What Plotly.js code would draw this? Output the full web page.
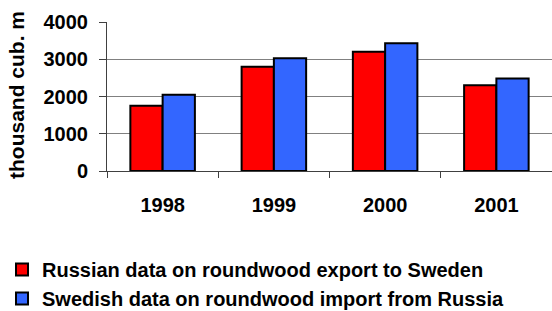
<!DOCTYPE html>
<html>
<head>
<meta charset="utf-8">
<script src="https://cdn.plot.ly/plotly-3.0.1.min.js"></script>
<style>html,body{margin:0;padding:0;background:#fff;}#chart{width:552px;height:311px;}</style>
</head>
<body>
<div id="chart"></div>
<script>
var years = ['1998', '1999', '2000', '2001'];
var russianExport = [1750, 2800, 3200, 2300];
var swedishImport = [2050, 3030, 3430, 2480];
var seriesNames = ['Russian data on roundwood export to Sweden', 'Swedish data on roundwood import from Russia'];
var yTicks = [0, 1000, 2000, 3000, 4000];
var yTitle = 'thousand cub. m';

var FONT = 'Liberation Sans, Arial, sans-serif';
var W = 552, H = 311, ML = 107, MR = 0, MT = 22, MB = 140;

var traces = [
  {type: 'bar', x: years, y: russianExport, name: seriesNames[0], legendgroup: 'a',
   marker: {color: '#FF0000', line: {color: '#000000', width: 2}}, hoverinfo: 'none'},
  {type: 'bar', x: years, y: swedishImport, name: seriesNames[1], legendgroup: 'b',
   marker: {color: '#3366FF', line: {color: '#000000', width: 2}}, hoverinfo: 'none'}
];

var layout = {
  width: W, height: H,
  margin: {l: ML, r: MR, t: MT, b: MB, pad: 0, autoexpand: false},
  paper_bgcolor: '#ffffff', plot_bgcolor: '#ffffff',
  font: {family: FONT, size: 20, color: '#000000', weight: 'bold'},
  barmode: 'group', bargap: 0.42, bargroupgap: 0,
  showlegend: true,
  legend: {
    xref: 'container', yref: 'container',
    x: 2 / W, y: 1 - 250 / H, xanchor: 'left', yanchor: 'top',
    orientation: 'v', traceorder: 'normal', tracegroupgap: 5,
    font: {family: FONT, size: 20, color: '#000000', weight: 'bold'},
    bgcolor: 'rgba(0,0,0,0)', borderwidth: 0
  },
  xaxis: {
    type: 'category', tickson: 'boundaries', ticks: 'outside', ticklen: 6, tickwidth: 1, tickcolor: '#404040',
    showline: true, linecolor: '#404040', linewidth: 1, showgrid: false, zeroline: false,
    tickfont: {family: FONT, size: 20, color: '#000000', weight: 'bold'},
    tickangle: 0, ticklabelstandoff: 16, automargin: false, fixedrange: true
  },
  yaxis: {
    range: [0, 4000], tickvals: yTicks, ticktext: yTicks.map(String),
    ticks: 'outside', ticklen: 7, tickwidth: 1, tickcolor: '#404040',
    showline: true, linecolor: '#404040', linewidth: 1,
    showgrid: true, gridcolor: '#808080', gridwidth: 1, zeroline: false,
    tickfont: {family: FONT, size: 20, color: '#000000', weight: 'bold'},
    tickangle: 0, ticklabelstandoff: 7,
    automargin: false, fixedrange: true
  },
  annotations: [{
    text: yTitle, textangle: -90, showarrow: false,
    xref: 'paper', yref: 'paper',
    x: (16.5 - ML) / (W - ML - MR), y: 0.5 + 1 / (H - MT - MB),
    xanchor: 'center', yanchor: 'middle',
    font: {family: FONT, size: 21, color: '#000000', weight: 'bold'}
  }]
};

Plotly.newPlot('chart', traces, layout, {displayModeBar: false, staticPlot: true});
</script>
</body>
</html>
